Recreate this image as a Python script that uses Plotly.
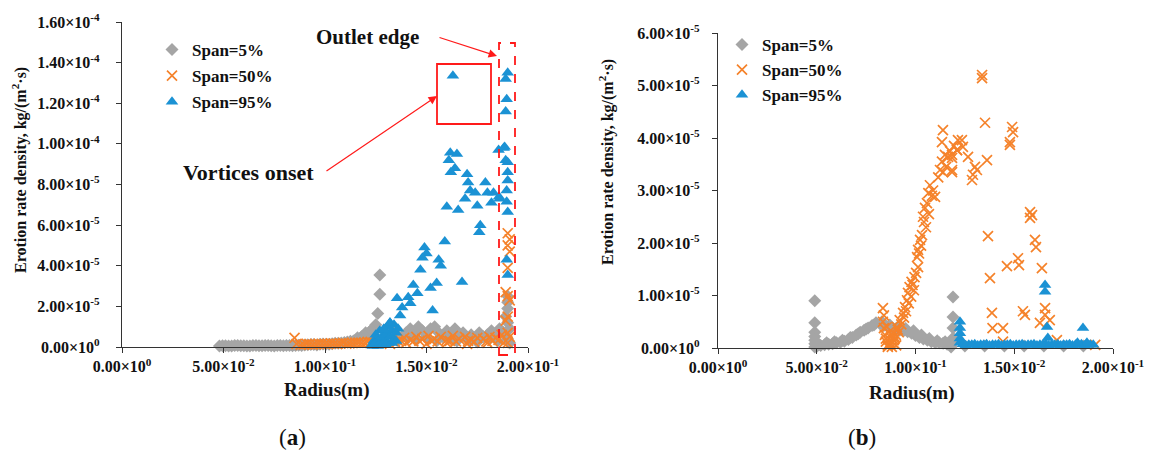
import plotly.graph_objects as go

# ---------------- data (x: radius in m, y: erosion rate density in units of 1e-5 kg/(m^2 s)) ----------------
# (a) left chart
a_s5_x = [0.048,0.051,0.054,0.057,0.060,0.063,0.066,0.069,0.072,0.075,0.078,0.081,0.084,0.087,0.090,0.093,0.096,0.099,
          0.102,0.105,0.108,0.111,0.114,0.116,0.118,0.120,0.122,0.124,0.125,0.126,0.127,0.127,
          0.0495,0.0525,0.0555,0.0585,0.0615,0.0645,0.0675,0.0705,0.0735,0.0765,0.0795,0.0825,0.0855,0.0885,
          0.0915,0.0945,0.0975,0.1005,0.1035,0.1065,0.1095,0.1125,0.115,0.117,0.119,0.121,0.123,
          0.130,0.133,0.135,0.138,0.140,0.142,0.144,0.146,0.148,0.150,0.152,0.154,0.156,0.158,0.160,0.162,0.164,0.166,
          0.168,0.170,0.172,0.174,0.176,0.178,0.180,0.182,0.184,0.186,0.188,
          0.136,0.145,0.155,0.165,0.175,0.185,0.141,0.151,0.161,0.171,0.181,
          0.190,0.190,0.190,0.190,0.191,0.189,0.190,0.191]
a_s5_y = [0.05,0.06,0.05,0.07,0.06,0.05,0.08,0.06,0.07,0.05,0.08,0.07,0.06,0.09,0.10,0.12,0.10,0.15,
          0.13,0.18,0.20,0.25,0.30,0.45,0.50,0.70,0.75,0.95,1.10,1.65,2.60,3.55,
          0.06,0.05,0.07,0.06,0.05,0.07,0.06,0.08,0.06,0.07,0.06,0.08,0.07,0.08,
          0.11,0.12,0.13,0.14,0.16,0.19,0.22,0.28,0.35,0.40,0.55,0.60,0.85,
          0.80,0.60,0.90,0.50,0.70,0.90,0.60,1.00,0.80,0.50,0.90,1.00,0.70,0.50,0.80,0.60,0.90,0.50,
          0.70,0.40,0.60,0.40,0.70,0.50,0.60,0.80,0.60,0.90,0.70,
          0.30,0.35,0.30,0.30,0.25,0.30,0.45,0.40,0.45,0.35,0.40,
          2.50,2.20,1.90,1.20,0.90,1.50,0.40,0.20]

a_s50_x = [0.085,0.086,0.088,0.091,0.094,0.097,0.100,0.103,0.106,0.109,0.112,0.115,0.118,0.121,0.124,0.127,0.130,
           0.133,0.136,0.139,0.142,0.145,0.148,0.151,0.154,0.157,0.160,0.163,0.166,0.169,0.172,0.175,0.178,0.181,
           0.184,0.187,0.132,0.140,0.150,0.160,0.170,0.180,0.188,
           0.0895,0.0925,0.0955,0.0985,0.1015,0.1045,0.1075,0.1105,0.1135,0.1165,0.1195,0.1225,0.1255,0.1285,
           0.1345,0.1375,0.1435,0.1465,0.1525,0.1555,0.1615,0.1645,0.1705,0.1735,0.1795,0.1825,0.1855,
           0.190,0.191,0.190,0.191,0.190,0.189,0.190,0.191,0.190,0.189,0.190,0.191,0.190]
a_s50_y = [0.45,0.15,0.10,0.15,0.12,0.15,0.15,0.18,0.15,0.20,0.18,0.22,0.20,0.25,0.20,0.30,0.35,
           0.40,0.30,0.45,0.35,0.50,0.40,0.55,0.40,0.50,0.35,0.55,0.40,0.50,0.35,0.45,0.40,0.50,
           0.45,0.60,0.15,0.20,0.15,0.20,0.15,0.20,0.20,
           0.12,0.14,0.13,0.16,0.15,0.17,0.18,0.17,0.20,0.22,0.22,0.25,0.28,0.30,
           0.25,0.30,0.28,0.30,0.30,0.28,0.30,0.28,0.30,0.25,0.28,0.30,0.35,
           5.60,5.30,5.00,4.70,3.90,2.70,2.50,2.30,1.50,1.30,0.70,0.50,0.20]

a_s95_x = [0.123,0.124,0.125,0.125,0.126,0.127,0.127,0.128,0.129,0.129,0.130,0.131,0.131,0.132,0.132,0.133,0.134,
           0.134,0.135,0.136,0.129,0.1235,0.1245,0.126,0.128,0.130,0.133,0.135,
           0.1617,0.165,0.161,0.164,0.162,0.170,0.1705,0.1715,0.174,0.169,0.179,0.180,0.183,0.182,0.186,0.160,
           0.1656,0.175,0.1765,0.176,0.159,0.149,0.150,0.148,0.156,0.157,0.147,0.1675,0.155,0.152,0.1435,0.1455,
           0.141,0.142,0.138,0.153,0.1355,0.137,0.132,0.1857,
           0.163,
           0.190,0.189,0.1895,0.189,0.1885,0.1855,0.188,0.189,0.190,0.190,0.190,0.1895,0.1895,0.190,0.1895,0.190]
a_s95_y = [0.10,0.30,0.60,0.10,0.40,0.80,0.20,0.50,0.90,0.30,0.60,1.00,0.20,1.20,0.50,0.80,0.40,
           1.10,0.70,0.90,0.85,0.05,0.15,0.05,0.10,0.10,0.20,0.30,
           9.56,9.50,9.20,8.80,8.60,8.50,8.10,7.70,7.60,7.30,8.10,7.60,7.60,7.10,7.30,6.90,
           6.75,6.95,6.00,5.65,5.20,4.90,4.60,4.40,4.30,4.00,3.80,3.20,3.15,2.90,3.05,2.65,
           2.45,2.15,1.95,1.80,2.40,1.55,1.20,7.40,
           13.35,
           13.50,13.20,12.20,11.60,9.85,9.70,9.80,9.20,9.10,8.60,8.20,7.70,7.15,6.65,4.30,3.55]

# (b) right chart
b_s5_x = [0.049,0.049,0.049,0.049,0.049,0.049,0.049,
          0.050,0.052,0.054,0.056,0.058,0.060,0.062,0.064,0.066,0.068,0.070,0.072,0.074,0.076,0.078,0.080,
          0.082,0.084,0.086,0.088,0.090,0.092,0.094,0.096,0.098,0.100,0.102,0.104,0.106,0.108,0.110,0.112,
          0.114,0.116,0.118,
          0.051,0.055,0.059,0.063,0.067,0.071,0.075,0.079,0.083,0.087,0.091,0.095,0.099,0.103,0.107,0.111,0.115,
          0.119,0.119,0.119,0.119,0.119,
          0.125,0.135,0.145,0.155,0.165,0.175,0.185]
b_s5_y = [0.90,0.48,0.30,0.22,0.15,0.08,0.02,
          0.03,0.05,0.06,0.07,0.08,0.10,0.11,0.13,0.16,0.20,0.25,0.30,0.34,0.38,0.43,0.48,
          0.46,0.43,0.40,0.38,0.36,0.34,0.33,0.31,0.28,0.24,0.20,0.17,0.15,0.12,0.10,0.10,
          0.09,0.07,0.02,
          0.07,0.10,0.12,0.15,0.20,0.27,0.36,0.44,0.50,0.44,0.40,0.37,0.33,0.25,0.18,0.14,0.12,
          0.97,0.59,0.38,0.19,0.10,
          0.04,0.04,0.04,0.04,0.04,0.04,0.04]

b_s50_x = [0.0835,0.084,0.0835,0.084,0.0845,0.085,0.086,0.087,0.088,0.089,0.0865,0.0875,0.090,0.091,
           0.086,0.0886,0.0906,0.092,0.0937,0.0947,0.0957,0.0962,0.097,0.098,0.1003,0.1013,0.1008,0.1013,
           0.1023,0.1033,0.1038,0.1048,0.1058,0.1073,0.1089,0.1099,0.1124,0.1139,0.1165,0.1185,0.1185,
           0.1139,0.1134,0.1149,0.121,0.1215,0.0995,0.0985,0.1018,0.1043,0.1065,
           0.0875,0.0895,0.0915,0.0928,0.0942,0.0952,0.0966,0.0978,0.0992,0.1028,0.1053,0.1068,0.1083,0.1115,
           0.1134,0.1155,0.1175,0.1195,0.085,0.0855,0.0885,0.0892,0.0902,
           0.1337,0.1337,0.1352,0.1489,0.1494,0.1478,0.1478,0.1235,0.124,0.121,0.1185,0.1185,0.1266,0.1362,
           0.1301,0.1291,0.1286,0.1311,0.158,0.159,0.158,0.1605,0.161,0.1367,0.1463,0.1519,0.1524,0.164,
           0.1377,0.1544,0.1554,0.1656,0.1656,0.168,0.163,0.1387,0.139,0.1443,0.1443,0.1716,0.191]
b_s50_y = [0.76,0.62,0.50,0.38,0.25,0.12,0.05,0.10,0.02,0.15,0.30,0.20,0.25,0.35,
           0.02,0.29,0.40,0.53,0.67,0.78,0.91,1.05,1.16,1.26,1.43,1.54,1.73,1.87,
           2.06,2.15,2.50,2.67,2.76,3.10,3.00,2.88,3.39,3.35,3.64,3.62,3.35,
           4.15,3.92,3.68,3.77,3.96,1.35,1.20,1.80,2.40,2.95,
           0.08,0.18,0.30,0.45,0.58,0.70,0.85,0.98,1.10,1.95,2.30,2.55,2.90,3.25,
           3.55,3.45,3.75,3.85,0.18,0.40,0.10,0.22,0.05,
           5.14,5.20,4.29,4.21,4.11,3.92,3.87,3.96,3.83,3.77,3.68,3.39,3.64,3.58,
           3.45,3.30,3.20,3.39,2.59,2.53,2.48,2.06,1.92,2.13,1.56,1.71,1.58,1.52,
           1.33,0.70,0.63,0.76,0.63,0.53,0.48,0.67,0.38,0.38,0.12,0.15,0.06]

b_s95_x = [0.1225,0.1225,0.1225,0.1225,0.1225,
           0.124,0.127,0.130,0.133,0.136,0.139,0.142,0.145,0.148,0.151,0.154,0.157,0.160,0.163,0.166,0.169,
           0.172,0.175,0.178,0.181,0.184,0.187,0.190,
           0.1255,0.1285,0.1315,0.1345,0.1375,0.1405,0.1435,0.1465,0.1495,0.1525,0.1555,0.1585,0.1615,0.1645,
           0.1675,0.1705,0.1735,0.1765,0.1795,0.1825,0.1855,0.1885,
           0.1656,0.1656,0.1666,0.167,0.1848,0.1868,0.182]
b_s95_y = [0.50,0.38,0.28,0.18,0.10,
           0.07,0.06,0.07,0.06,0.07,0.06,0.07,0.06,0.07,0.06,0.07,0.06,0.07,0.06,0.07,0.06,
           0.07,0.06,0.07,0.06,0.07,0.06,0.06,
           0.05,0.06,0.05,0.06,0.05,0.06,0.05,0.06,0.05,0.06,0.05,0.06,0.05,0.06,
           0.05,0.06,0.05,0.06,0.05,0.06,0.05,0.06,
           1.20,1.07,0.40,0.19,0.38,0.10,0.10]

series_names = ["Span=5%", "Span=50%", "Span=95%"]
x_tick_vals = [0.0, 0.05, 0.10, 0.15, 0.20]
x_tick_text = ["0.00×10<sup>0</sup>", "5.00×10<sup>-2</sup>", "1.00×10<sup>-1</sup>",
               "1.50×10<sup>-2</sup>", "2.00×10<sup>-1</sup>"]
a_y_tick_vals = [0, 2e-5, 4e-5, 6e-5, 8e-5, 1e-4, 1.2e-4, 1.4e-4, 1.6e-4]
a_y_tick_text = ["0.00×10<sup>0</sup>", "2.00×10<sup>-5</sup>", "4.00×10<sup>-5</sup>", "6.00×10<sup>-5</sup>",
                 "8.00×10<sup>-5</sup>", "1.00×10<sup>-4</sup>", "1.20×10<sup>-4</sup>", "1.40×10<sup>-4</sup>",
                 "1.60×10<sup>-4</sup>"]
b_y_tick_vals = [0, 1e-5, 2e-5, 3e-5, 4e-5, 5e-5, 6e-5]
b_y_tick_text = ["0.00×10<sup>0</sup>", "1.00×10<sup>-5</sup>", "2.00×10<sup>-5</sup>", "3.00×10<sup>-5</sup>",
                 "4.00×10<sup>-5</sup>", "5.00×10<sup>-5</sup>", "6.00×10<sup>-5</sup>"]

SCALE = 1e-5
FONT = "Times New Roman, Liberation Serif, DejaVu Serif, serif"
GRAY, ORANGE, BLUE, RED = "#a5a5a5", "#f5822a", "#1b92d4", "#ff1a1a"

def sc(v):
    return [val * SCALE for val in v]

W, H = 1158, 450
def px(x): return x / W
def py(y): return 1 - y / H

fig = go.Figure()

styles = [
    dict(symbol="diamond", size=10, color=GRAY),
    dict(symbol="x-thin", size=10, color=ORANGE, line=dict(color=ORANGE, width=1.7)),
    dict(symbol="triangle-up", size=11, color=BLUE),
]

for (xs, ys), st, nm, grp in zip([(a_s5_x, a_s5_y), (a_s50_x, a_s50_y), (a_s95_x, a_s95_y)], styles, series_names, "abc"):
    fig.add_trace(go.Scatter(x=xs, y=sc(ys), mode="markers", marker=st, name=nm, xaxis="x", yaxis="y",
                             legend="legend", legendgroup="a" + grp, cliponaxis=False))
for (xs, ys), st, nm, grp in zip([(b_s5_x, b_s5_y), (b_s50_x, b_s50_y), (b_s95_x, b_s95_y)], styles, series_names, "abc"):
    fig.add_trace(go.Scatter(x=xs, y=sc(ys), mode="markers", marker=st, name=nm, xaxis="x2", yaxis="y2",
                             legend="legend2", legendgroup="b" + grp, cliponaxis=False))

tickfont = dict(family=FONT, size=16, color="#111", weight="bold")
axis_common = dict(showline=True, linecolor="#333", linewidth=1.3, ticks="outside", ticklen=5,
                   tickcolor="#333", showgrid=False, zeroline=False, tickfont=tickfont, automargin=False)

legend_font = dict(family=FONT, size=17, color="#111", weight="bold")

fig.update_layout(
    width=W, height=H, margin=dict(l=0, r=0, t=0, b=0, autoexpand=False),
    paper_bgcolor="white", plot_bgcolor="white",
    font=dict(family=FONT),
    xaxis=dict(domain=[px(122), px(528)], range=[0, 0.2], tickvals=x_tick_vals, ticktext=x_tick_text,
               anchor="y", **axis_common),
    yaxis=dict(domain=[py(347), py(22)], range=[0, 1.6e-4], tickvals=a_y_tick_vals, ticktext=a_y_tick_text,
               anchor="x", ticklabelstandoff=13, **axis_common),
    xaxis2=dict(domain=[px(718), px(1113)], range=[0, 0.2], tickvals=x_tick_vals, ticktext=x_tick_text,
                anchor="y2", **axis_common),
    yaxis2=dict(domain=[py(348), py(33)], range=[0, 6e-5], tickvals=b_y_tick_vals, ticktext=b_y_tick_text,
                anchor="x2", ticklabelstandoff=9, **axis_common),
    legend=dict(x=px(152), y=py(32), font=legend_font, bgcolor="rgba(0,0,0,0)", xanchor="left",
                yanchor="top", tracegroupgap=1, itemsizing="trace"),
    legend2=dict(x=px(722), y=py(27), font=legend_font, bgcolor="rgba(0,0,0,0)", xanchor="left",
                 yanchor="top", tracegroupgap=0, itemsizing="trace"),
    showlegend=True,
)

title_font = dict(family=FONT, size=16, color="#111", weight="bold")
annos = [
    dict(text="Erotion rate density, kg/(m<sup>2</sup>·s)", x=px(19), y=py(170), textangle=-90, font=title_font),
    dict(text="Erotion rate density, kg/(m<sup>2</sup>·s)", x=px(606), y=py(162), textangle=-90, font=title_font),
    dict(text="Radius(m)", x=px(327), y=py(390), font=dict(family=FONT, size=19, color="#111", weight="bold")),
    dict(text="Radius(m)", x=px(912), y=py(393), font=dict(family=FONT, size=19, color="#111", weight="bold")),
    dict(text="(<b>a</b>)", x=px(293), y=py(437), font=dict(family=FONT, size=23, color="#111")),
    dict(text="(<b>b</b>)", x=px(862), y=py(437), font=dict(family=FONT, size=23, color="#111")),
    dict(text="Outlet edge", x=px(367), y=py(37), font=dict(family=FONT, size=21, color="#111", weight="bold")),
    dict(text="Vortices onset", x=px(248), y=py(172), font=dict(family=FONT, size=22, color="#111", weight="bold")),
]
for a in annos:
    fig.add_annotation(xref="paper", yref="paper", showarrow=False, xanchor="center", yanchor="middle", **a)

# red arrows
fig.add_annotation(xref="paper", yref="paper", x=px(437), y=py(96), ax=-112, ay=76, text="",
                   showarrow=True, arrowhead=2, arrowsize=1.4, arrowwidth=1.2, arrowcolor=RED)
fig.add_annotation(xref="paper", yref="paper", x=px(497), y=py(56), ax=-59, ay=-19, text="",
                   showarrow=True, arrowhead=2, arrowsize=1.4, arrowwidth=1.2, arrowcolor=RED)

# highlight boxes
fig.add_shape(type="rect", xref="paper", yref="paper", x0=px(437), x1=px(491), y0=py(124), y1=py(64),
              line=dict(color=RED, width=1.8), layer="above")
fig.add_shape(type="rect", xref="paper", yref="paper", x0=px(499), x1=px(515), y0=py(355), y1=py(43),
              line=dict(color=RED, width=1.8, dash="dash"), layer="above")

# remove the default page margin so the 1158x450 figure fills the window exactly
fig.write_html("out.html", config={"displayModeBar": False},
               post_script="document.body.style.margin='0px';")
